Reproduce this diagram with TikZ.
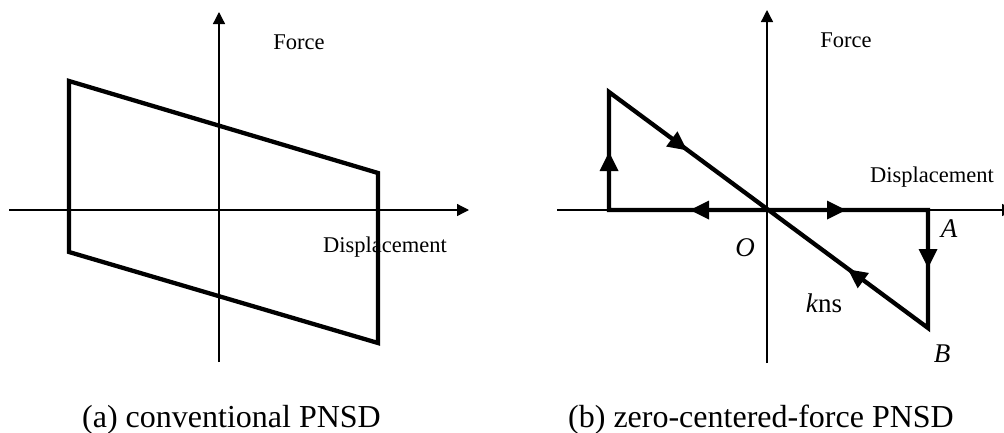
\documentclass[tikz,border=0pt]{standalone}
\usepackage{fontspec}
\setmainfont{Liberation Serif}
\usetikzlibrary{arrows.meta,calc}
\tikzset{
  axisline/.style={line width=1.3pt,-{Triangle[length=12pt,width=12pt]}},
  curveline/.style={line width=4.3pt,line join=miter},
  lbl/.style={anchor=base,inner sep=0pt,font=\fontsize{22.5}{26}\selectfont},
  ital/.style={anchor=base,inner sep=0pt,font=\fontsize{27}{31}\selectfont\itshape},
  captext/.style={anchor=base west,inner sep=0pt,font=\fontsize{32}{36}\selectfont},
}
\newcommand\headat[2]{%
  \path ($(#1)!19pt!(#2)$) coordinate (hb);
  \fill ($(hb)!9.5pt!90:(#1)$) -- (#1) -- ($(hb)!9.5pt!-90:(#1)$) -- cycle;}
\begin{document}
\begin{tikzpicture}[x=1pt,y=-1pt]
\useasboundingbox (0,0) rectangle (1004,432);
% ---------- (a) ----------
\coordinate (aL) at (9,210);
\coordinate (aR) at (469,210);
\coordinate (aD) at (219,362);
\coordinate (aU) at (219,12);
\draw[axisline] (aL) -- (aR);
\draw[axisline] (aD) -- (aU);
\coordinate (p1) at (69,81);
\coordinate (p2) at (378,173);
\coordinate (p3) at (378,343);
\coordinate (p4) at (69,252);
\draw[curveline] (p1) -- (p2) -- (p3) -- (p4) -- cycle;
\node[lbl] (aF) at (299,49) {Force};
\node[lbl] (aDisp) at (385,252) {Displacement};
\node[captext] (capa) at (82,427) {(a) conventional PNSD};
% ---------- (b) ----------
\coordinate (bL) at (557,210);
\coordinate (bR) at (1014,210);
\coordinate (bD) at (767,363);
\coordinate (bU) at (767,10);
\draw[axisline] (bL) -- (bR);
\draw[axisline] (bD) -- (bU);
\coordinate (O) at (767,210);
\coordinate (P) at (609,92);
\coordinate (Q) at (609,210);
\coordinate (A) at (928,210);
\coordinate (B) at (928,328);
\draw[curveline] (Q) -- (P) -- (B) -- (A) -- cycle;
\coordinate (t1) at (687,150.3);
\coordinate (t2) at (609,152);
\coordinate (t3) at (690,210);
\coordinate (t4) at (846,210);
\coordinate (t5) at (928,268);
\coordinate (t6) at (848,269.4);
\headat{t1}{P}
\headat{t2}{Q}
\headat{t3}{O}
\headat{t4}{O}
\headat{t5}{A}
\headat{t6}{B}
\node[lbl] (bF) at (846,47) {Force};
\node[lbl] (bDisp) at (932,182) {Displacement};
\node[ital] (lA) at (949,237) {A};
\node[ital] (lO) at (745,256) {O};
\node[ital] (lB) at (942,362) {B};
\node[anchor=base,inner sep=0pt,font=\fontsize{27}{31}\selectfont] (lk) at (824,312) {\textit{k}ns};
\node[captext] (capb) at (568,427) {(b) zero-centered-force PNSD};
\end{tikzpicture}
\end{document}
